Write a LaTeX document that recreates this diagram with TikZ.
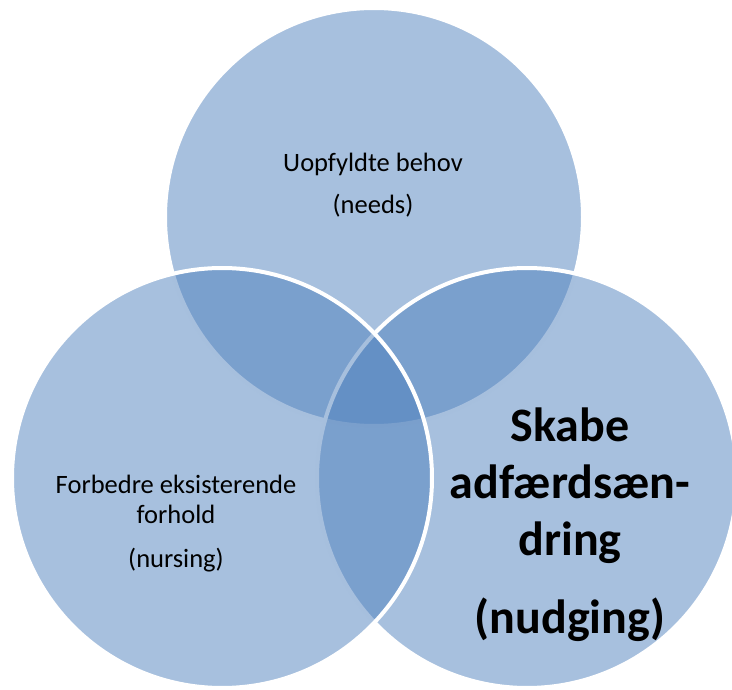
\documentclass[tikz,border=0pt]{standalone}
\usepackage{fontspec}
\setmainfont{Carlito}
\definecolor{vennblue}{RGB}{79,129,189}
\begin{document}
\begin{tikzpicture}[x=1pt,y=-1pt,
  venn/.style={circle, minimum size=420pt, inner sep=0pt, fill=vennblue, fill opacity=0.5, draw=white, draw opacity=1, line width=4pt},
  small/.style={align=center, font=\fontsize{26.5}{30}\selectfont, text=black},
  big/.style={align=center, font=\fontsize{48}{57}\selectfont\bfseries, text=black}]
\useasboundingbox (0,0) rectangle (732,690);
\node[venn, minimum size=418pt] (top) at (374,217) {};
\node[venn] (right) at (527,478) {};
\node[venn] (left) at (222,478) {};
\node[small] (ttop) at (373,185) {Uopfyldte behov\\[12pt](needs)};
\node[small] (tleft) at (176,524) {Forbedre eksisterende\\forhold\\[14pt](nursing)};
\node[big] (tright) at (570,525) {Skabe\\adfærdsæn-\\dring\\[21pt](nudging)};
\end{tikzpicture}
\end{document}
